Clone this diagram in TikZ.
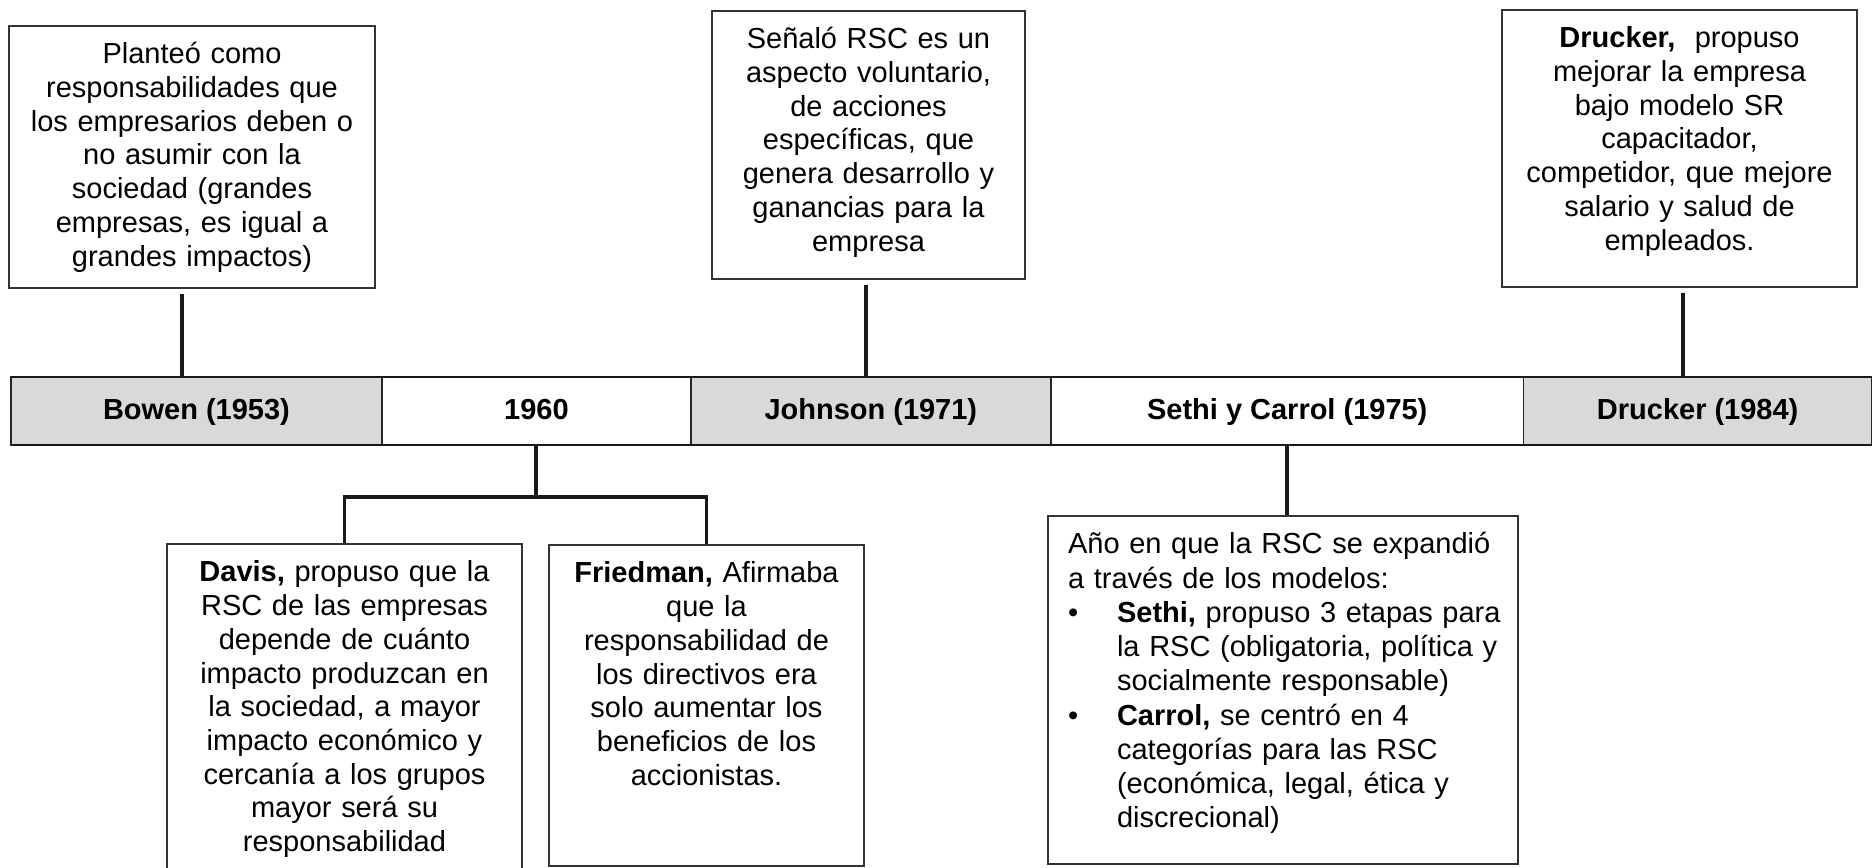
\documentclass[tikz,border=0pt]{standalone}
\usepackage{fontspec}
\setmainfont{Liberation Sans}
\usepackage{tikz}
\usetikzlibrary{positioning}

\definecolor{cellgray}{HTML}{D9D9D9}
\newcommand\boxfont{\fontsize{16.5}{19.2}\selectfont}

\begin{document}
\begin{tikzpicture}[x=0.02cm, y=-0.02cm,
                    cell/.style={draw=black!85, line width=0.8pt, inner sep=0pt, outer sep=0pt,
                                 text height=0.84cm, text depth=0.52cm, font=\boxfont\bfseries},
                    shaded/.style={cell, fill=cellgray},
                    note/.style={draw=black!80, line width=0.9pt, inner sep=0pt, anchor=north,
                                 align=center, font=\boxfont, text height=0.76cm},
                    link/.style={line width=2.2pt, black!90},
                    rule/.style={line width=1.6pt, black!90}
                    ]
    \useasboundingbox (0,0) rectangle (1875,867);

    % TIMELINE %
    \node[shaded, minimum width=7.42cm, anchor=north west] (bowen) at (11,377) {Bowen (1953)};
    \node[cell, minimum width=6.18cm, right=0pt of bowen] (c1960) {1960};
    \node[shaded, minimum width=7.2cm, right=0pt of c1960] (johnson) {Johnson (1971)};
    \node[cell, minimum width=9.46cm, right=0pt of johnson] (sethi) {Sethi y Carrol (1975)};
    \node[shaded, minimum width=6.96cm, right=0pt of sethi] (drucker) {Drucker (1984)};

    \draw[rule] (bowen.north west) -- (drucker.north east);
    \draw[rule] (bowen.south west) -- (drucker.south east);

    % NOTES ABOVE %
    \node[note, text width=7.32cm, text depth=4.48cm] (bowenTxt) at (192,25)
        {Planteó como\\responsabilidades que\\los empresarios deben o\\no asumir con la\\sociedad (grandes\\empresas, es igual a\\grandes impactos)};
    \node[note, text width=6.26cm, text depth=4.6cm] (johnsonTxt) at (868.5,10)
        {Señaló RSC es un\\aspecto voluntario,\\de acciones\\específicas, que\\genera desarrollo y\\ganancias para la\\empresa};
    \node[note, text width=7.1cm, text depth=4.78cm] (druckerTxt) at (1679.5,9)
        {\textbf{Drucker,}\ \ propuso\\mejorar la empresa\\bajo modelo SR\\capacitador,\\competidor, que mejore\\salario y salud de\\empleados.};

    \foreach \t/\c/\px in {bowenTxt/bowen/182, johnsonTxt/johnson/866, druckerTxt/drucker/1683}
    \draw[link, shorten <=0.1cm] (\t.south -| \px,0) -- (\c.north -| \px,0);

    % NOTES BELOW %
    \node[note, text width=7.1cm, text depth=5.82cm] (davis) at (344.5,543)
        {\textbf{Davis,} propuso que la\\RSC de las empresas\\depende de cuánto\\impacto produzcan en\\la sociedad, a mayor\\impacto económico y\\cercanía a los grupos\\mayor será su\\responsabilidad};
    \node[note, text width=6.3cm, text depth=5.66cm] (friedman) at (706.5,544)
        {\textbf{Friedman,} Afirmaba\\que la\\responsabilidad de\\los directivos era\\solo aumentar los\\beneficios de los\\accionistas.};
    \node[note, align=left, text width=9.4cm, text depth=6.2cm,
          font=\fontsize{16.5}{19.5}\selectfont] (sethiTxt) at (1283,515)
        {\leftskip=0.4cm
         Año en que la RSC se expandió\\
         a través de los modelos:\\
         \makebox[0.98cm][l]{\textbullet}\textbf{Sethi,} propuso 3 etapas para\\
         \hspace*{0.98cm}la RSC (obligatoria, política y\\
         \hspace*{0.98cm}socialmente responsable)\\
         \makebox[0.98cm][l]{\textbullet}\textbf{Carrol,} se centró en 4\\
         \hspace*{0.98cm}categorías para las RSC\\
         \hspace*{0.98cm}(económica, legal, ética y\\
         \hspace*{0.98cm}discrecional)\par};

    \coordinate (split) at (c1960.south |- 0,497);
    \draw[link] (c1960.south) -- (split);
    \draw[link] (davis.north) |- (split) -| (friedman.north);
    \draw[link] (sethi.south) -- (sethi.south |- sethiTxt.north);
\end{tikzpicture}
\end{document}
